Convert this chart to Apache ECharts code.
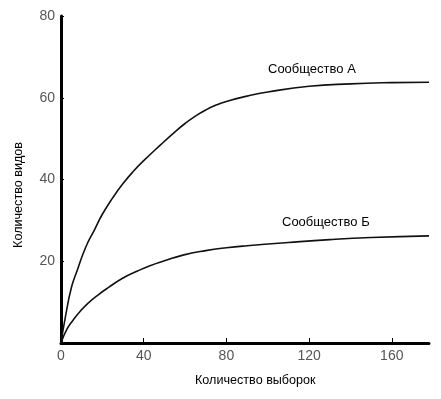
<!DOCTYPE html>
<html><head><meta charset="utf-8">
<script src="https://cdn.jsdelivr.net/npm/echarts@6/dist/echarts.min.js"></script>
<style>html,body{margin:0;padding:0;background:#fff}#c{width:441px;height:399px}</style>
</head><body><div id="c"></div>
<script>
var samplesA = [0, 2, 5, 8, 12, 16, 20, 25, 30, 35, 40, 48, 55, 60, 65, 70, 75, 80, 90, 100, 120, 140, 160, 178];
var valuesA  = [0, 6, 13.5, 18, 23.5, 27.5, 31.5, 35.5, 39, 42, 44.6, 48.4, 51.6, 53.7, 55.5, 57, 58.2, 59.1, 60.4, 61.4, 62.8, 63.4, 63.7, 63.8];
var samplesB = [0, 3, 6, 9, 13, 18, 23, 30, 37, 43, 50, 59, 70, 80, 90, 110, 130, 150, 178];
var valuesB  = [0, 3.5, 5.7, 7.6, 9.7, 11.8, 13.6, 15.9, 17.6, 18.9, 20.1, 21.5, 22.6, 23.3, 23.8, 24.6, 25.3, 25.8, 26.2];
var xTicks = [0, 40, 80, 120, 160];
var yTicks = [0, 20, 40, 60, 80];
var nameA = 'Сообщество А', nameB = 'Сообщество Б';
var xName = 'Количество выборок', yName = 'Количество видов';

function pairs(xs, ys){ return xs.map(function(x,i){return [x, ys[i]];}); }
var chart = echarts.init(document.getElementById('c'));
var font = 'Liberation Sans, Arial, sans-serif';
chart.setOption({
  animation: false,
  grid: {left: 61, right: 12, top: 16, bottom: 56},
  xAxis: {
    type: 'value', min: 0, max: 178, interval: 40,
    axisLine: {lineStyle: {color: '#000', width: 3}},
    axisTick: {show: true, inside: true, length: 5, lineStyle: {color: '#000', width: 1}},
    axisLabel: {color: '#555', fontSize: 14, fontFamily: font, margin: 6, showMaxLabel: false,
      formatter: function(v){ return xTicks.indexOf(v) >= 0 ? String(v) : ''; }},
    splitLine: {show: false}
  },
  yAxis: {
    type: 'value', min: 0, max: 80, interval: 20,
    axisLine: {show: true, lineStyle: {color: '#000', width: 3}},
    axisTick: {show: true, inside: true, length: 3, lineStyle: {color: '#000', width: 1}},
    axisLabel: {color: '#555', fontSize: 14, fontFamily: font, margin: 6, showMinLabel: false,
      formatter: function(v){ return yTicks.indexOf(v) >= 0 ? String(v) : ''; }},
    splitLine: {show: false}
  },
  series: [
    {type: 'line', name: nameA, data: pairs(samplesA, valuesA), smooth: 0.5, symbol: 'none',
     lineStyle: {color: '#111', width: 1.6}},
    {type: 'line', name: nameB, data: pairs(samplesB, valuesB), smooth: 0.5, symbol: 'none',
     lineStyle: {color: '#111', width: 1.6}}
  ],
  graphic: [
    {type: 'text', left: 268, top: 63, style: {text: nameA, font: '13px ' + font, fill: '#000'}},
    {type: 'text', left: 282, top: 216, style: {text: nameB, font: '13px ' + font, fill: '#000'}},
    {type: 'text', left: 195, top: 374, style: {text: xName, font: '12.6px ' + font, fill: '#000'}},
    {type: 'text', left: 12, top: 142, rotation: Math.PI/2, style: {text: yName, font: '12.6px ' + font, fill: '#000'}}
  ]
});
</script></body></html>
